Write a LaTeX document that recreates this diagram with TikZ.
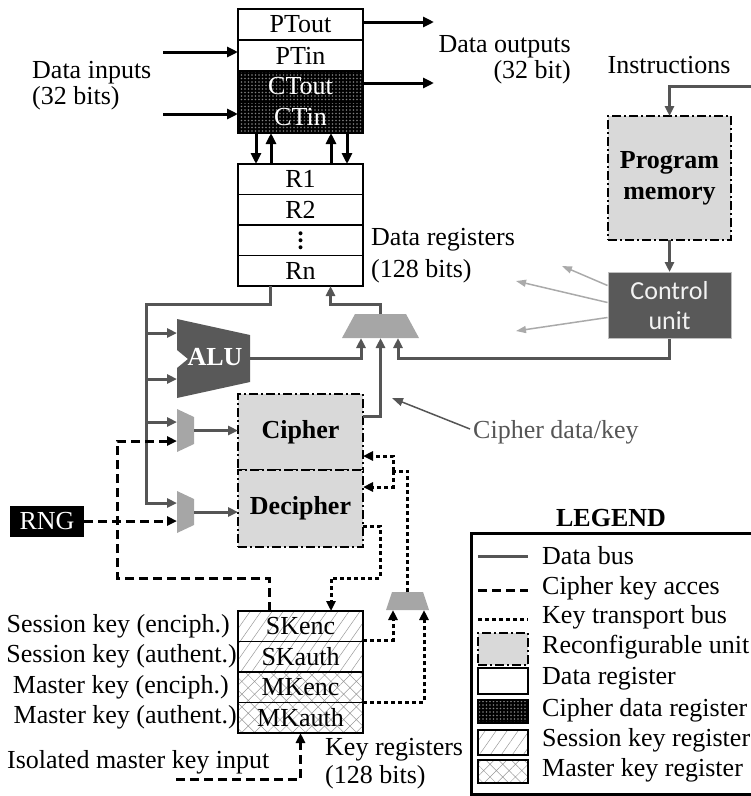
\documentclass[tikz,border=0pt]{standalone}
\usepackage{fontspec}
\setmainfont{Liberation Serif}
\newfontfamily\ctrlfont{Carlito}
\usetikzlibrary{positioning, calc, arrows.meta, patterns.meta}

\definecolor{busgray}{HTML}{555555}
\definecolor{unitgray}{HTML}{595959}
\definecolor{muxgray}{HTML}{A6A6A6}
\definecolor{reconfgray}{HTML}{D9D9D9}
\definecolor{ctrlgray}{HTML}{AAAAAA}

\begin{document}
\begin{tikzpicture}[x=1pt, y=-1pt, inner sep=0pt, font=\fontsize{26}{26}\selectfont]
    % Styles
    \tikzset{
        reg/.style={rectangle, draw, line width=1.5pt, minimum width=125pt, minimum height=31pt, inner sep=0pt, outer sep=0pt},
        creg/.style={reg, preaction={fill=black}, pattern={Dots[distance=3.5pt, radius=0.9pt]}, pattern color=black!50, text=white},
        sreg/.style={reg, pattern={Lines[angle=55, distance=9pt, line width=0.5pt]}, pattern color=black!40},
        mreg/.style={reg, pattern={Hatch[angle=45, distance=9pt, line width=0.5pt]}, pattern color=black!40},
        reconf/.style={rectangle, draw, fill=reconfgray, line width=1.4pt, dash pattern=on 9pt off 3pt on 2pt off 3pt, inner sep=0pt, outer sep=0pt},
        muxfill/.style={fill=muxgray},
        blk/.style={line width=3pt, -{Triangle[length=11pt, width=10pt]}},
        bus/.style={draw=busgray, line width=3pt},
        busarrow/.style={bus, -{Triangle[length=10pt, width=9pt]}},
        keyline/.style={line width=3pt, dash pattern=on 9pt off 5pt},
        keyarrow/.style={keyline, -{Triangle[length=10pt, width=9pt]}},
        transport/.style={line width=3pt, dash pattern=on 4pt off 3pt},
        transportarrow/.style={transport, -{Triangle[length=10pt, width=9pt]}},
        ctrlarrow/.style={draw=ctrlgray, line width=1.5pt, -{Triangle[length=10pt, width=7pt]}},
        annot/.style={draw=busgray, line width=1.5pt, -{Triangle[length=11pt, width=8pt]}}
    }
    \useasboundingbox (0,0) rectangle (751,796);

    % I/O buffer
    \node[reg] (ptout) at (300.5,24.5) {PTout};
    \node[reg, below=0pt of ptout] (ptin) {PTin};
    \node[creg, below=0pt of ptin] (ctout) {CTout};
    \node[creg, below=0pt of ctout] (ctin) {CTin};

    % Data registers
    \node[reg, minimum height=30.5pt, below=31pt of ctin] (r1) {R1};
    \node[reg, minimum height=30.5pt, below=0pt of r1] (r2) {R2};
    \node[reg, minimum height=30.5pt, below=0pt of r2] (rdots) {};
    \node[reg, minimum height=30.5pt, below=0pt of rdots] (rn) {Rn};
    \foreach \k in {-7,0,7}
        \fill ([yshift=\k pt]rdots.center) circle (2pt);

    % Cipher unit
    \node[reconf, minimum width=125pt, minimum height=76pt, below=108pt of rn] (cipher) {\textbf{Cipher}};
    \node[reconf, minimum width=125pt, minimum height=77pt, below=0pt of cipher] (decipher) {\textbf{Decipher}};

    % Key registers
    \node[sreg, minimum height=30.5pt, below=64pt of decipher] (skenc) {SKenc};
    \node[sreg, minimum height=30.5pt, below=0pt of skenc] (skauth) {SKauth};
    \node[mreg, minimum height=30.5pt, below=0pt of skauth] (mkenc) {MKenc};
    \node[mreg, minimum height=30.5pt, below=0pt of mkenc] (mkauth) {MKauth};
    \node[left=8pt of skenc] (skencl) {Session key (enciph.)};
    \node[left=1pt of skauth] (skauthl) {Session key (authent.)};
    \node[left=9pt of mkenc] (mkencl) {Master key (enciph.)};
    \node[left=1pt of mkauth] (mkauthl) {Master key (authent.)};

    % Program memory and control unit
    \node[reconf, minimum width=123pt, minimum height=124pt, align=center] (progmem) at (669.5,178) {\textbf{Program}\\[5pt]\textbf{memory}};
    \node[rectangle, fill=unitgray, draw=black!25, line width=1pt, minimum width=123pt, minimum height=66pt, align=center, text=black!5, font=\ctrlfont\fontsize{26}{30}\selectfont, below=32pt of progmem] (ctrl) {Control\\unit};

    % ALU
    \coordinate (alu) at (213,358);
    \fill[unitgray] (alu) ++(-36,-39) -- ++(73,16) -- ++(0,47) -- ++(-73,16) -- ++(0,-30) -- ++(11,-9) -- ++(-11,-9) -- cycle;
    \node[text=white, font=\fontsize{26}{26}\selectfont\bfseries] (alulabel) at (215,357) {ALU};
    \coordinate (aluinA) at (177,333);
    \coordinate (aluinB) at (177,379);
    \coordinate (aluout) at (250,358);

    % Multiplexers
    \coordinate (omux) at (380.5,326);
    \fill[muxfill] (omux) ++(-38.5,12) -- ++(77,0) -- ++(-13,-24) -- ++(-51,0) -- cycle;
    \coordinate (omuxin) at (380.5,338);
    \coordinate (omuxout) at (380.5,314);

    \coordinate (cmux) at (185.5,430.5);
    \fill[muxfill] (cmux) ++(-8.5,-21.5) -- ++(17,8) -- ++(0,27) -- ++(-17,8) -- cycle;
    \coordinate (cmuxinA) at (177,422);
    \coordinate (cmuxinB) at (177,441);
    \coordinate (cmuxout) at (194,430.5);

    \coordinate (dmux) at (185.5,512);
    \fill[muxfill] (dmux) ++(-8.5,-21) -- ++(17,8) -- ++(0,26) -- ++(-17,8) -- cycle;
    \coordinate (dmuxinA) at (177,503);
    \coordinate (dmuxinB) at (177,521);
    \coordinate (dmuxout) at (194,512);

    \coordinate (kmux) at (407.5,601);
    \fill[muxfill] (kmux) ++(-21.5,9) -- ++(43,0) -- ++(-6,-18) -- ++(-31,0) -- cycle;
    \coordinate (kmuxin) at (407.5,610);
    \coordinate (kmuxout) at (407.5,592);

    % RNG
    \node[fill=black, text=white, minimum width=74pt, minimum height=31pt] (rng) at (47,521) {RNG};

    % Text labels
    \node[anchor=west, align=left] (datain) at (32,86) {Data inputs\\(32 bits)};
    \node[anchor=east, align=right] (dataout) at (571,59.5) {Data outputs\\(32 bit)};
    \node[anchor=west, align=left] (dreglabel) at (371,256) {Data registers\\[6pt](128 bits)};
    \node[anchor=west, align=left] (kreglabel) at (325,764) {Key registers\\[2pt](128 bits)};
    \node (instrlabel) at (669,65) {Instructions};
    \node[anchor=west] (isolabel) at (7,762) {Isolated master key input};
    \node[anchor=west, text=busgray] (cdklabel) at (473,432) {Cipher data/key};

    % Free ends
    \coordinate (inA) at (163,52);
    \coordinate (inB) at (163,114);
    \coordinate (outA) at (434,22);
    \coordinate (outB) at (434,83);
    \coordinate (instrin) at (756,86);
    \coordinate (busturn) at (146,304);
    \coordinate (keyturn) at (117,578);
    \coordinate (ktturn) at (380,578);
    \coordinate (ksplit) at (393,471);
    \coordinate (isoin) at (176,779);
    \coordinate (cdktip) at (392,398);
    \coordinate (ctlA) at (562,266);
    \coordinate (ctlB) at (516,281);
    \coordinate (ctlC) at (516,331);

    % Data inputs and outputs
    \draw[blk] (inA) -- (inA -| ptin.west);
    \draw[blk] (inB) -- (inB -| ctin.west);
    \draw[blk] (outA -| ptout.east) -- (outA);
    \draw[blk] (outB -| ctout.east) -- (outB);

    % Buffer <-> registers
    \draw[blk] ([xshift=18pt]ctin.south west) -- ([xshift=18pt]r1.north west);
    \draw[blk] ([xshift=33pt]r1.north west) -- ([xshift=33pt]ctin.south west);
    \draw[blk] ([xshift=-32pt]r1.north east) -- ([xshift=-32pt]ctin.south east);
    \draw[blk] ([xshift=-16pt]ctin.south east) -- ([xshift=-16pt]r1.north east);

    % Data bus
    \draw[busarrow] ([xshift=-30.5pt]rn.south) |- (busturn) |- (dmuxinA);
    \draw[busarrow] (busturn |- aluinA) -- (aluinA);
    \draw[busarrow] (busturn |- aluinB) -- (aluinB);
    \draw[busarrow] (busturn |- cmuxinA) -- (cmuxinA);
    \draw[busarrow] (cmuxout) -- (cmuxout -| cipher.west);
    \draw[busarrow] (dmuxout) -- (dmuxout -| decipher.west);
    \draw[busarrow] (aluout) -| ([xshift=-19.5pt]omuxin);
    \draw[busarrow] ([yshift=16pt]cipher.east) -| (omuxin);
    \draw[busarrow] (ctrl.south) -- ++(0,19) -| ([xshift=17.5pt]omuxin);
    \draw[busarrow] (omuxout) -- ++(0,-10) -| ([xshift=30pt]rn.south);

    % Program flow
    \draw[busarrow] (instrin) -| (progmem.north);
    \draw[busarrow] (progmem) -- (ctrl);
    \draw[ctrlarrow] ([yshift=20pt]ctrl.west) -- (ctlA);
    \draw[ctrlarrow] ([yshift=3pt]ctrl.west) -- (ctlB);
    \draw[ctrlarrow] ([yshift=-12pt]ctrl.west) -- (ctlC);

    % Cipher key access
    \draw[keyarrow] ([xshift=-31.5pt]skenc.north) |- (keyturn) |- (cmuxinB);
    \draw[keyarrow] (rng.east) -- (dmuxinB);
    \draw[keyarrow] (isoin) -| (mkauth.south);

    % Key transport
    \draw[transportarrow] ([yshift=-17.5pt]decipher.east) -| (ktturn) -| ([xshift=30.5pt]skenc.north);
    \draw[transport] (kmuxout) |- (ksplit);
    \draw[transportarrow] (ksplit) |- ([yshift=-24pt]cipher.east);
    \draw[transportarrow] (ksplit) |- ([yshift=21.5pt]decipher.east);
    \draw[transportarrow] ([yshift=-14pt]skenc.east) -| ([xshift=-14.5pt]kmuxin);
    \draw[transportarrow] ([yshift=-15pt]mkenc.east) -| ([xshift=16.5pt]kmuxin);

    % Annotation
    \draw[annot] ([xshift=-3pt, yshift=3pt]cdklabel.west) -- (cdktip);

    % Legend
    \node[font=\fontsize{26}{26}\selectfont\bfseries] (legendtitle) at (611,518) {LEGEND};
    \node[draw, line width=3pt, minimum width=300pt, minimum height=261pt, anchor=north west] (legendbox) at (470,532) {};
    \coordinate (lgbus) at (478,556);
    \coordinate (lgkey) at (478,590);
    \coordinate (lgtrans) at (478,619);
    \draw[bus] (lgbus) -- ++(50,0);
    \draw[keyline] (lgkey) -- ++(50,0);
    \draw[transport] (lgtrans) -- ++(50,0);
    \node[reconf, minimum width=50pt, minimum height=32pt] (lgreconf) at (503,649) {};
    \node[reg, minimum width=50pt, minimum height=26pt] (lgdreg) at (503,681) {};
    \node[creg, minimum width=50pt, minimum height=23pt] (lgcreg) at (503,711.5) {};
    \node[sreg, minimum width=50pt, minimum height=25pt] (lgsreg) at (503,742.5) {};
    \node[mreg, minimum width=50pt, minimum height=23pt] (lgmreg) at (503,771.5) {};
    \node[anchor=west] (lgbust) at (542,556) {Data bus};
    \node[anchor=west] (lgkeyt) at (542,588) {Cipher key acces};
    \node[anchor=west] (lgtranst) at (542,617) {Key transport bus};
    \node[anchor=west] (lgreconft) at (542,647) {Reconfigurable unit};
    \node[anchor=west] (lgdregt) at (542,679) {Data register};
    \node[anchor=west] (lgcregt) at (542,710) {Cipher data register};
    \node[anchor=west] (lgsregt) at (542,740) {Session key register};
    \node[anchor=west] (lgmregt) at (542,770) {Master key register};
\end{tikzpicture}
\end{document}
